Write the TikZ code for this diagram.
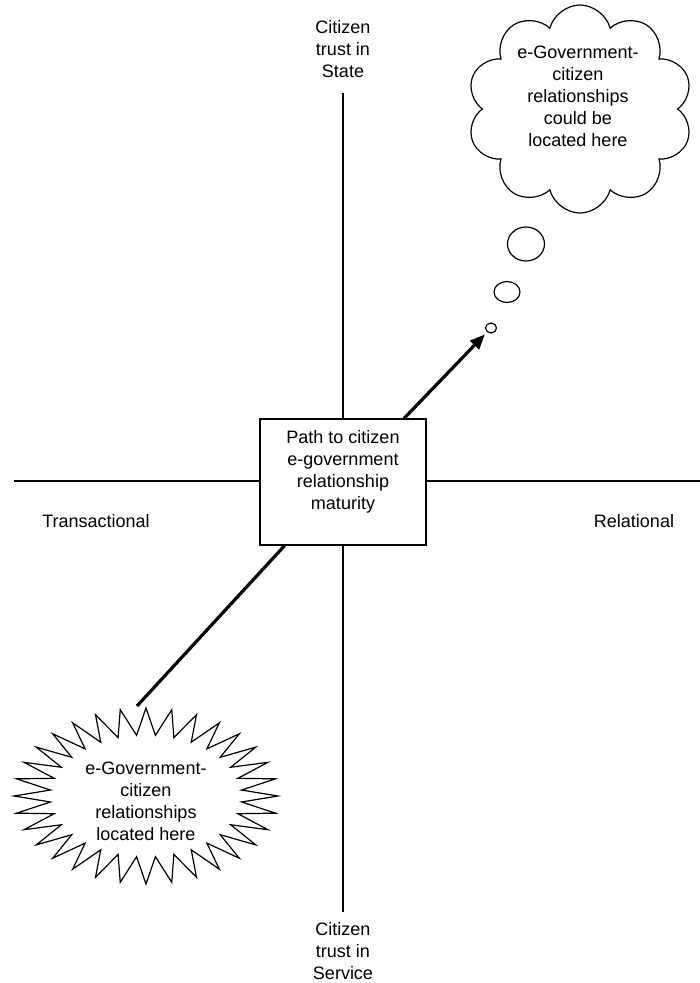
\documentclass[tikz,border=0pt]{standalone}
\usepackage{fontspec}
\setmainfont{Liberation Sans}
\usepackage{tikz}
\usetikzlibrary{arrows.meta,shapes.symbols,shapes.geometric}

\begin{document}
\begin{tikzpicture}[x=1pt, y=-1pt, line width=1.2pt, font=\fontsize{18}{22}\selectfont]
	\useasboundingbox (0,0) rectangle (700,983);
	% axes
	\node[align=center] (state) at (343,49) {Citizen\\trust in\\State};
	\node[align=center] (service) at (343,951) {Citizen\\trust in\\Service};
	\node (trans) at (96,521) {Transactional};
	\node (rel) at (634,521) {Relational};
	\node[draw, fill=white, align=center, text depth=24pt, minimum width=166, minimum height=126] (path) at (343,482) {Path to citizen\\e-government\\relationship\\maturity};
	\coordinate (ytop) at (343,93);
	\coordinate (ybot) at (343,912);
	\coordinate (xleft) at (14,481);
	\coordinate (xright) at (700,481);
	\draw (ytop) -- (path);
	\draw (path) -- (ybot);
	\draw (xleft) -- (xleft -| path.west);
	\draw (xright -| path.east) -- (xright);
	% thought bubble
	\node[cloud, draw, cloud puffs=10, minimum width=226, minimum height=208] (cloud) at (580,109) {};
	\node[align=center] (cloudtxt) at (578,96) {e-Government-\\citizen\\relationships\\could be\\located here};
	\node[ellipse, draw, inner sep=0, minimum width=37, minimum height=34] (bub1) at (526,244) {};
	\node[ellipse, draw, inner sep=0, minimum width=26, minimum height=21] (bub2) at (507,292) {};
	\node[ellipse, draw, inner sep=0, minimum width=11, minimum height=10] (bub3) at (491,328) {};
	\draw[line width=3.2pt, -{Triangle[length=15pt, width=12pt]}, shorten >=3pt] (path) -- (bub3);
	% starburst
	\begin{scope}[shift={(146,796)}]
		\draw[line join=miter] (90:132 and 88)
			\foreach \k in {1,...,31} { -- ({90+(2*\k-1)*5.625}:96 and 61) -- ({90+2*\k*5.625}:132 and 88) }
			-- ({90-5.625}:96 and 61) -- cycle;
	\end{scope}
	\coordinate (burst) at (137,706);
	\node[align=center] (bursttxt) at (146,801) {e-Government-\\citizen\\relationships\\located here};
	\draw[line width=3.2pt] (path) -- (burst);
\end{tikzpicture}
\end{document}
